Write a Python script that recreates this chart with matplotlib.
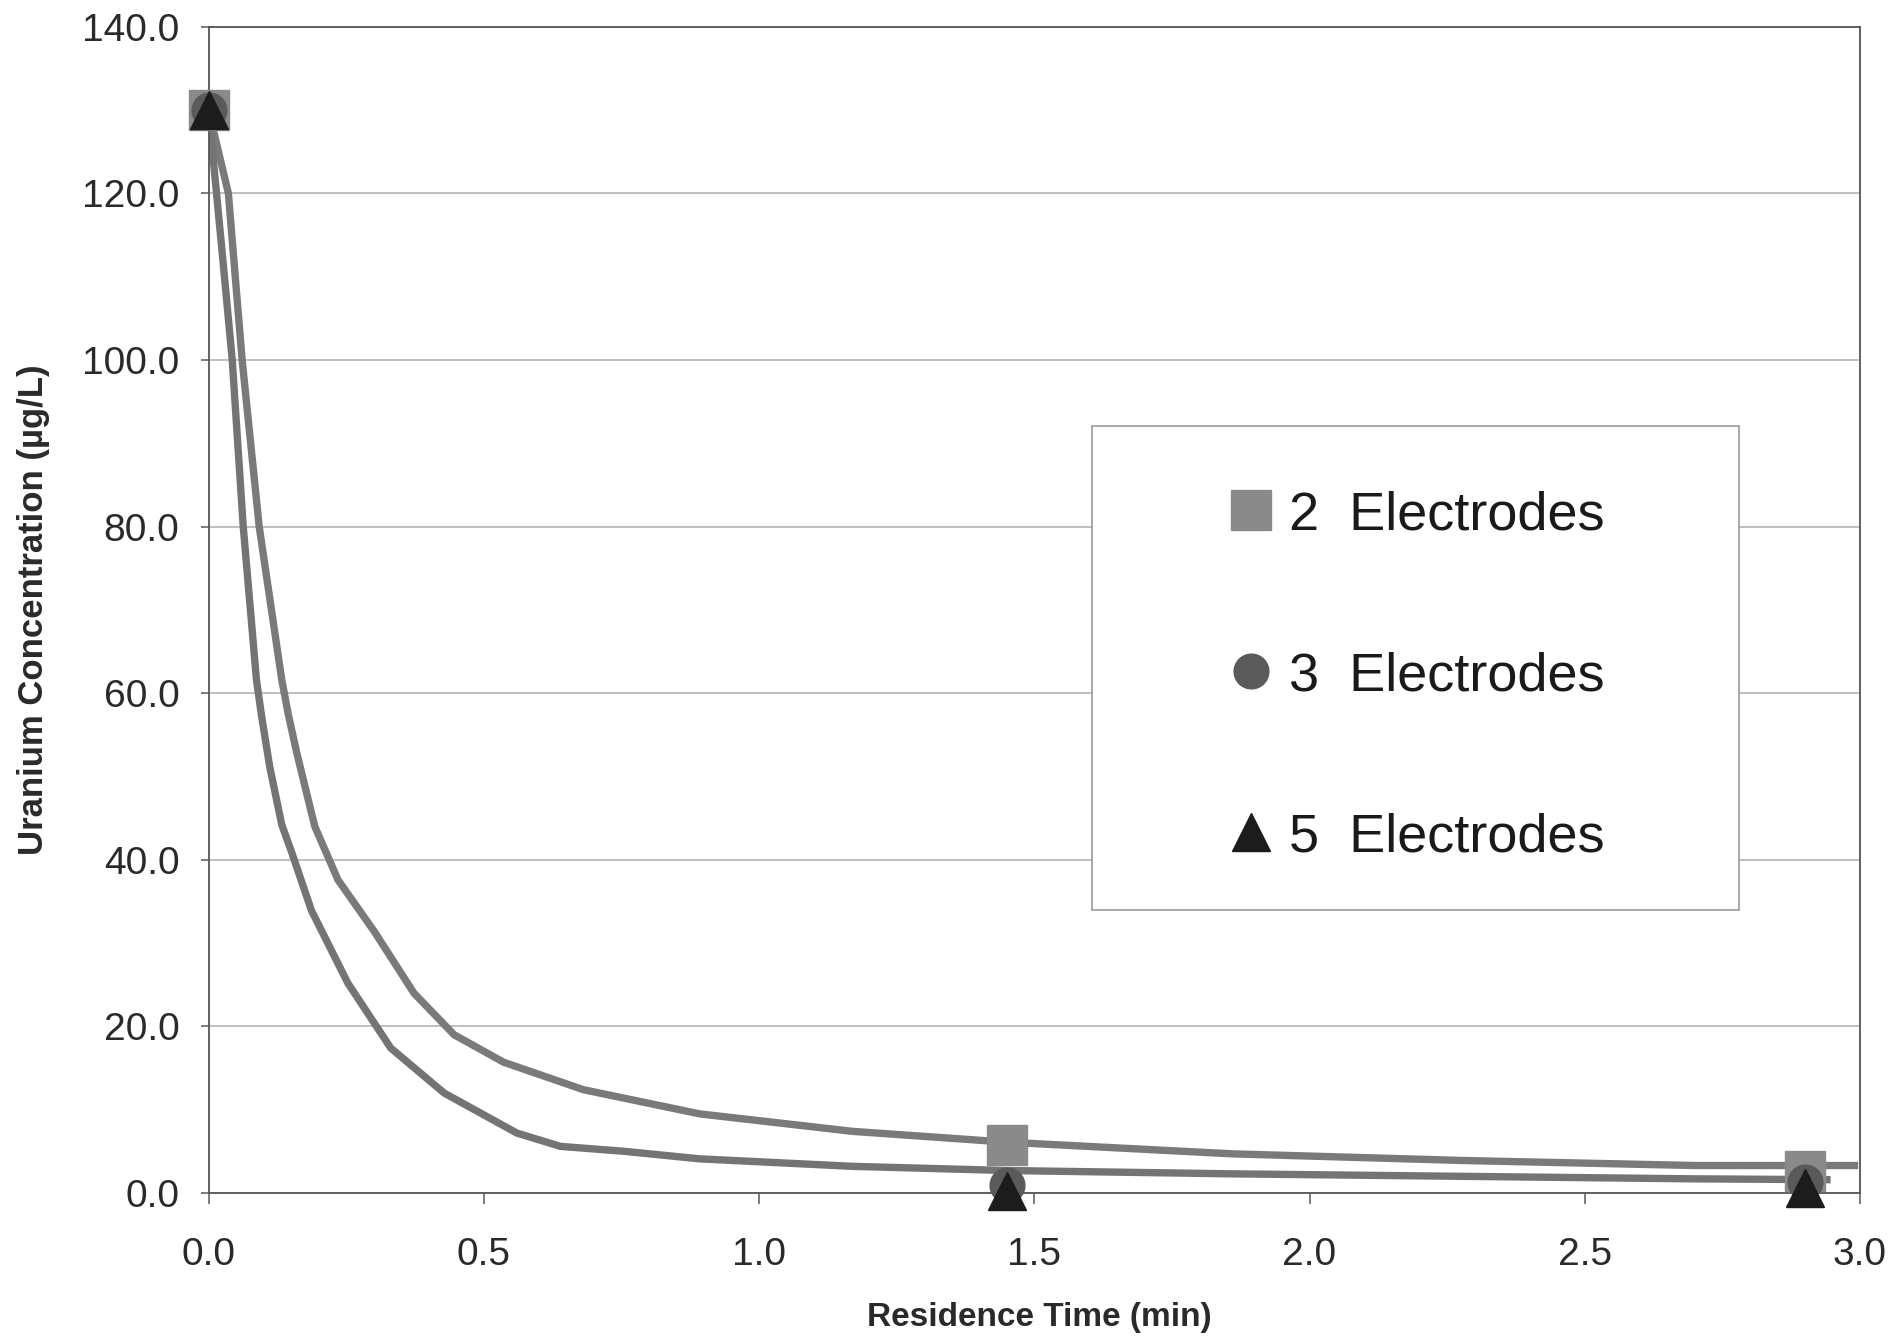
import matplotlib.pyplot as plt
from matplotlib.patches import Rectangle

# measured points (residence time in min, uranium in ug/L)
time_pts = [0.0, 1.45, 2.9]
u_2el = [130.0, 5.8, 2.6]
u_3el = [130.0, 1.0, 1.3]
u_5el = [130.0, 0.3, 0.6]

# trend curves
fit_a_x = [0, 0.036, 0.061, 0.092, 0.133, 0.145, 0.160, 0.193, 0.235, 0.301,
           0.373, 0.446, 0.536, 0.681, 0.892, 1.17, 1.45, 1.86, 2.28, 2.7, 2.99]
fit_a_y = [130, 120, 100, 80, 61.6, 57.4, 52.9, 44.0, 37.6, 31.4,
           24.0, 19.0, 15.7, 12.4, 9.5, 7.4, 6.1, 4.7, 3.9, 3.3, 3.3]
fit_b_x = [0, 0.026, 0.043, 0.063, 0.087, 0.096, 0.111, 0.133, 0.151, 0.187,
           0.253, 0.331, 0.428, 0.560, 0.639, 0.756, 0.892, 1.17, 1.45, 1.86,
           2.28, 2.7, 2.94]
fit_b_y = [130, 112, 100, 80, 61.6, 57.4, 51.2, 44.2, 40.9, 33.9,
           25.2, 17.4, 12.0, 7.2, 5.6, 5.0, 4.1, 3.2, 2.7, 2.3,
           2.0, 1.7, 1.6]

yticks = [0, 20, 40, 60, 80, 100, 120, 140]
xticks = [0, 0.5, 1.0, 1.5, 2.0, 2.5, 3.0]

fig = plt.figure(figsize=(18.96, 13.37), dpi=100)
ax = fig.add_axes([0.110, 0.1077, 0.871, 0.8723])

# curves
ax.plot(fit_a_x, fit_a_y, color="#7a7a7a", lw=5.3, solid_joinstyle="miter", zorder=2)
ax.plot(fit_b_x, fit_b_y, color="#747474", lw=5.3, solid_joinstyle="miter", zorder=2)

# markers
ax.plot(time_pts, u_2el, ls="none", marker="s", ms=29, color="#8a8a8a",
        mec="#8a8a8a", zorder=4, clip_on=False, label="2  Electrodes")
ax.plot(time_pts, u_3el, ls="none", marker="o", ms=25, color="#5a5a5a",
        mec="#5a5a5a", zorder=5, clip_on=False, label="3  Electrodes")
ax.plot(time_pts, u_5el, ls="none", marker="^", ms=28, color="#1c1c1c",
        mec="#1c1c1c", zorder=6, clip_on=False, label="5  Electrodes")

ax.set_xlim(0, 3.0)
ax.set_ylim(0, 140)
ax.set_xticks(xticks)
ax.set_yticks(yticks)
ax.set_xticklabels([f"{v:.1f}" for v in xticks])
ax.set_yticklabels([f"{v:.1f}" for v in yticks])

ax.grid(axis="y", color="#b4b4b4", lw=1.2, zorder=1)
ax.set_axisbelow(True)
for s in ax.spines.values():
    s.set_color("#555555")
    s.set_linewidth(1.3)

tick_family = ["Liberation Sans", "DejaVu Sans"]
ax.tick_params(axis="y", direction="out", length=6, width=1.2, color="#666666",
               pad=15, labelcolor="#2a2a2a")
ax.tick_params(axis="x", direction="out", length=8, width=1.2, color="#666666",
               pad=24, labelcolor="#2a2a2a")
for lab in ax.get_xticklabels() + ax.get_yticklabels():
    lab.set_fontfamily(tick_family)
    lab.set_fontsize(28)

ax.set_xlabel("Residence Time (min)", fontsize=24, fontweight="bold",
              family=["Liberation Sans Narrow", "Liberation Sans"],
              color="#2a2a2a", va="center")
ax.xaxis.set_label_coords(0.503, -0.107)
ax.set_ylabel("Uranium Concentration (µg/L)", fontsize=25, fontweight="bold",
              family=["Liberation Sans", "DejaVu Sans"], color="#2a2a2a",
              va="center")
ax.yaxis.set_label_coords(-0.106, 0.50)

# legend box
box = Rectangle((0.535, 0.243), 0.392, 0.415, transform=ax.transAxes,
                facecolor="white", edgecolor="#9a9a9a", lw=1.2, zorder=7)
ax.add_patch(box)
leg = ax.legend(loc="center left", bbox_to_anchor=(0.615, 0.443),
                frameon=False, borderaxespad=0, borderpad=0,
                handlelength=1.0, handletextpad=0.2, labelspacing=2.05,
                prop={"family": tick_family, "size": 39})
leg.set_zorder(8)
for t in leg.get_texts():
    t.set_color("#1a1a1a")

fig.savefig("out.png", dpi=100, facecolor="white")
